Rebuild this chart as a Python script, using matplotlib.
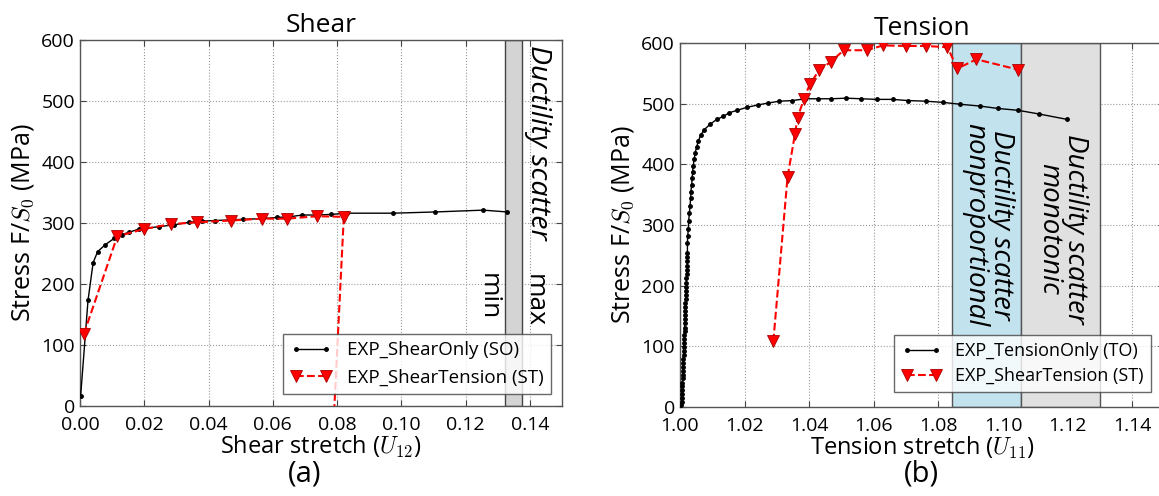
import numpy as np
import matplotlib
matplotlib.use('Agg')
import matplotlib.pyplot as plt

plt.rcParams['font.family'] = ['Open Sans', 'DejaVu Sans']
plt.rcParams['mathtext.fontset'] = 'cm'

# shear test: stretch U12 vs stress (MPa)
shear_so_x = [0.0002, 0.0025, 0.0041, 0.0055, 0.0078, 0.0107, 0.0131, 0.0154, 0.0184, 0.0202,
              0.0247, 0.0294, 0.0338, 0.0380, 0.0420, 0.0466, 0.0507, 0.0566, 0.0612, 0.0650,
              0.0692, 0.0740, 0.0780, 0.0831, 0.0975, 0.1104, 0.1255, 0.1330]
shear_so_y = [16, 173, 235, 253, 264, 275, 281, 285, 290, 291,
              294, 297, 301, 303, 304, 305, 306, 307, 309, 310,
              313, 313, 314, 316, 316, 318, 321, 318]
shear_st_x = [0.0012, 0.0116, 0.0199, 0.0282, 0.0363, 0.0470, 0.0565, 0.0643, 0.0738, 0.0821, 0.0788]
shear_st_y = [118, 278, 290, 298, 301, 304, 307, 307, 311, 310, -40]

# tension test: stretch U11 vs stress (MPa)
tens_to_x = [1.0004, 1.0005, 1.0005, 1.0006, 1.0006, 1.0007, 1.0007, 1.0008, 1.0008, 1.0009,
             1.0009, 1.0010, 1.0010, 1.0011, 1.0011, 1.0012, 1.0012, 1.0013, 1.0013, 1.0014,
             1.0014, 1.0015, 1.0015, 1.0016, 1.0016, 1.0017, 1.0017, 1.0018, 1.0018, 1.0019,
             1.0019, 1.0020, 1.0020, 1.0021, 1.0021, 1.0022, 1.0022, 1.0023, 1.0023,
             1.0023, 1.0024, 1.0026, 1.0027, 1.0029, 1.0031, 1.0033, 1.0034, 1.0036, 1.0038,
             1.0039, 1.0041, 1.0044, 1.0047, 1.0052, 1.0057, 1.0064, 1.0075, 1.0093, 1.0114,
             1.0134, 1.0153, 1.0177, 1.0208, 1.0243, 1.0273, 1.0307, 1.0348, 1.0387, 1.0428,
             1.0467, 1.0514, 1.0562, 1.0609, 1.0658, 1.0707, 1.0762, 1.0815, 1.0867, 1.0929,
             1.0985, 1.1047, 1.1111, 1.1199]
tens_to_y = [3, 9, 15, 21, 28, 34, 40, 47, 53, 60,
             66, 73, 79, 86, 92, 99, 105, 112, 118, 125,
             131, 138, 145, 151, 158, 165, 171, 178, 185, 191,
             198, 205, 212, 219, 226, 233, 240, 247, 254,
             270, 282, 294, 307, 319, 331, 344, 355, 366, 377,
             388, 397, 408, 419, 429, 439, 448, 457, 466, 474,
             479, 485, 489, 494, 498, 501, 504, 505, 508, 508,
             508, 509, 508, 507, 507, 505, 504, 502, 499, 496,
             492, 489, 483, 474]
tens_st_x = [1.0289, 1.0333, 1.0356, 1.0364, 1.0384, 1.0402, 1.0431, 1.0467, 1.0507,
             1.0578, 1.0629, 1.0700, 1.0761, 1.0828, 1.0859, 1.0918, 1.1047]
tens_st_y = [108, 379, 450, 477, 508, 532, 555, 569, 588,
             588, 596, 595, 595, 593, 558, 573, 556]

# ductility scatter ranges
shear_band = (0.1322, 0.1375)
tens_band_np = (1.0843, 1.1056)
tens_band_mono = (1.1056, 1.1300)

fig = plt.figure(figsize=(11.59, 4.96), dpi=100)
ax1 = fig.add_axes([0.069, 0.1815, 0.4159, 0.738])
ax2 = fig.add_axes([0.5867, 0.1794, 0.418, 0.734])


def style_axes(ax):
    ax.grid(True, linestyle=':', color='#999999', linewidth=0.8)
    ax.set_axisbelow(True)
    ax.tick_params(direction='in', top=True, right=True, labelsize=14, length=4, color='#444444')
    ax.tick_params(axis='x', pad=7)
    for s in ax.spines.values():
        s.set_color('#555555')
        s.set_linewidth(1.0)


# (a) shear
ax1.axvspan(shear_band[0], shear_band[1], facecolor='#d4d4d4', edgecolor='#444444', lw=1.0, zorder=1)
ax1.plot(shear_so_x, shear_so_y, 'k.-', lw=1.0, ms=5, label='EXP_ShearOnly (SO)', zorder=3)
ax1.plot(shear_st_x, shear_st_y, 'r--', marker='v', ms=8, mec='#aa0000', mew=0.6, lw=1.5,
         label='EXP_ShearTension (ST)', zorder=4)
ax1.set_xlim(0, 0.15)
ax1.set_ylim(0, 600)
ax1.set_xticks(np.arange(0, 0.1401, 0.02))
style_axes(ax1)
ax1.set_title('Shear', fontsize=19, pad=6)
ax1.set_xlabel('Shear stretch ($U_{12}$)', fontsize=17, labelpad=0)
ax1.set_ylabel('Stress F/$S_0$ (MPa)', fontsize=18)
ax1.text(0.1425, 592, 'Ductility scatter', rotation=-90, style='italic', fontsize=20.5,
         ha='center', va='top')
ax1.text(0.1272, 180, 'min', rotation=-90, fontsize=19, ha='center', va='center')
ax1.text(0.1415, 173, 'max', rotation=-90, fontsize=19, ha='center', va='center')
leg1 = ax1.legend(loc='lower right', numpoints=2, fontsize=13.5, fancybox=False,
                  bbox_to_anchor=(0.985, 0.022), borderaxespad=0.2, handlelength=2.2)
leg1.get_frame().set_edgecolor('#444444')

# (b) tension
ax2.axvspan(tens_band_np[0], tens_band_np[1], facecolor='#c2e2ee', edgecolor='#555555', lw=1.0, zorder=1)
ax2.axvspan(tens_band_mono[0], tens_band_mono[1], facecolor='#e0e0e0', edgecolor='#555555', lw=1.0, zorder=1)
ax2.plot(tens_to_x, tens_to_y, 'k.-', lw=1.0, ms=5, label='EXP_TensionOnly (TO)', zorder=3)
ax2.plot(tens_st_x, tens_st_y, 'r--', marker='v', ms=8, mec='#aa0000', mew=0.6, lw=1.5,
         label='EXP_ShearTension (ST)', zorder=4)
ax2.set_xlim(1.0, 1.15)
ax2.set_ylim(0, 600)
ax2.set_xticks(np.arange(1.0, 1.1401, 0.02))
style_axes(ax2)
ax2.set_title('Tension', fontsize=19, pad=6)
ax2.set_xlabel('Tension stretch ($U_{11}$)', fontsize=17, labelpad=0)
ax2.set_ylabel('Stress F/$S_0$ (MPa)', fontsize=18)
ax2.text(1.0954, 300, 'Ductility scatter\nnonproportional', rotation=-90, style='italic',
         fontsize=20, ha='center', va='center', multialignment='center', linespacing=0.9)
ax2.text(1.1183, 293, 'Ductility scatter\nmonotonic', rotation=-90, style='italic',
         fontsize=20, ha='center', va='center', multialignment='center', linespacing=0.9)
leg2 = ax2.legend(loc='lower right', numpoints=2, fontsize=13, fancybox=False,
                  bbox_to_anchor=(0.98, 0.03), borderaxespad=0.2, handlelength=2.2,
                  labelspacing=0.4)
leg2.get_frame().set_edgecolor('#444444')

fig.text(0.263, 0.044, '(a)', fontsize=21, ha='center', va='center')
fig.text(0.795, 0.044, '(b)', fontsize=21, ha='center', va='center')

fig.savefig('out.png', dpi=100)
